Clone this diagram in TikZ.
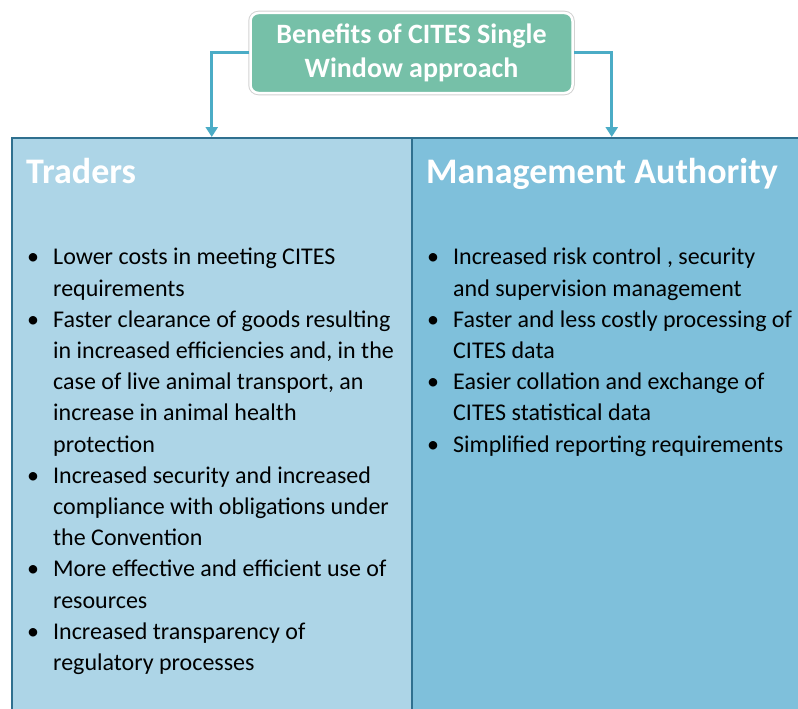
\documentclass[tikz,border=0pt]{standalone}
\usepackage{fontspec}
\setmainfont{Carlito}
\usetikzlibrary{positioning,arrows.meta}
\definecolor{headgreen}{RGB}{118,192,168}
\definecolor{tradeblue}{RGB}{173,213,231}
\definecolor{authblue}{RGB}{127,192,219}
\definecolor{edgeblue}{RGB}{47,112,143}
\definecolor{flowteal}{RGB}{75,172,198}
\newcommand{\bul}{\makebox[26pt][l]{\textbullet}}
\newcommand{\ind}{\hspace*{26pt}}

\begin{document}
\begin{tikzpicture}[x=1pt,y=-1pt,
	headbox/.style={fill=headgreen,draw=white,line width=2.5pt,rounded corners=8pt,
		preaction={draw=gray!35,line width=4.5pt},minimum width=322pt,minimum height=80pt,
		text=white,font=\bfseries\fontsize{28}{34}\selectfont,align=center,text depth=4pt},
	colbox/.style={draw=edgeblue,line width=1.5pt,minimum width=400pt,minimum height=600pt,inner sep=0pt},
	colhead/.style={anchor=base west,inner sep=0pt,text=white,font=\bfseries\fontsize{36}{40}\selectfont},
	itemlist/.style={anchor=north west,inner sep=0pt,align=left,font=\fontsize{24}{31.2}\selectfont},
	flow/.style={-{Triangle[width=12pt,length=10pt]},flowteal,line width=3pt}]
	\useasboundingbox (0,0) rectangle (798,709);
	\clip (0,0) rectangle (798,709);
	%The two columns
	\node[colbox,fill=tradeblue,anchor=north west] (traders) at (11,137) {};
	\node[colbox,fill=authblue,anchor=north west] (authority) at (411,137) {};
	%The heading box and its arrows
	\node[headbox] (head) at (411.5,53) {Benefits of CITES Single\\Window approach};
	\draw[flow] (head.west) -| (traders.north);
	\draw[flow] (head.east) -| (authority.north);
	%Column headings
	\node[colhead] (tradehead) at (26,183) {Traders};
	\node[colhead] (authhead) at (426,183) {Management Authority};
	%Bullet lists
	\node[itemlist] (tradelist) at (27,248) {\bul Lower costs in meeting CITES\\
		\ind requirements\\
		\bul Faster clearance of goods resulting\\
		\ind in increased efficiencies and, in the\\
		\ind case of live animal transport, an\\
		\ind increase in animal health\\
		\ind protection\\
		\bul Increased security and increased\\
		\ind compliance with obligations under\\
		\ind the Convention\\
		\bul More effective and efficient use of\\
		\ind resources\\
		\bul Increased transparency of\\
		\ind regulatory processes};
	\node[itemlist] (authlist) at (427,248) {\bul Increased risk control , security\\
		\ind and supervision management\\
		\bul Faster and less costly processing of\\
		\ind CITES data\\
		\bul Easier collation and exchange of\\
		\ind CITES statistical data\\
		\bul Simplified reporting requirements};
\end{tikzpicture}
\end{document}
